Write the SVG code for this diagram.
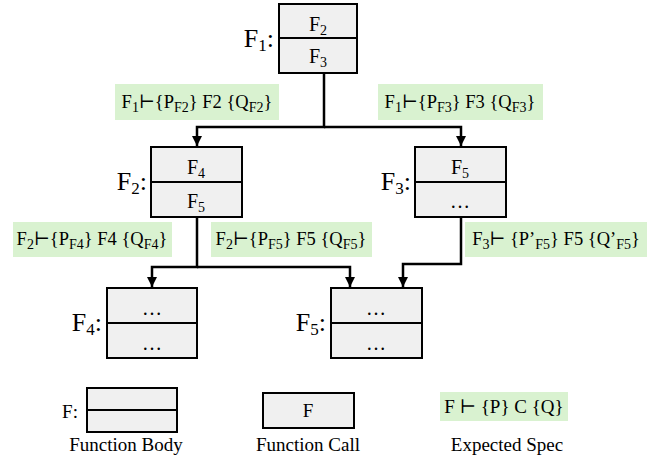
<svg xmlns="http://www.w3.org/2000/svg" width="657" height="462" viewBox="0 0 657 462">
<style>
text{font-family:"Liberation Serif","DejaVu Serif",serif;fill:#000}
.box{fill:#f0f0f0;stroke:#000;stroke-width:2}
.div{stroke:#000;stroke-width:2}
.spec{fill:#d9f2d0}
.lbl{font-size:26px;text-anchor:end}
.in{font-size:20px;text-anchor:middle}
.st{font-size:18.5px;text-anchor:middle}
.leg{font-size:19px;text-anchor:middle}
.sub{font-size:14px}
.ls{font-size:17px}
.con{fill:none;stroke:#000;stroke-width:2.5}
</style>
<defs>
<marker id="ah" viewBox="0 0 10 10" refX="10" refY="5" markerWidth="10" markerHeight="10" markerUnits="userSpaceOnUse" orient="auto">
<path d="M0,0 L10,5 L0,10 Z" fill="#000"/>
</marker>
</defs>

<g id="connectors">
<path class="con" d="M324,74 V127 H197 V146" marker-end="url(#ah)"/>
<path class="con" d="M324,127 H461 V146" marker-end="url(#ah)"/>
<path class="con" d="M197,217 V267 H152 V287" marker-end="url(#ah)"/>
<path class="con" d="M197,267 H350 V287" marker-end="url(#ah)"/>
<path class="con" d="M461,217 V264 H403 V287" marker-end="url(#ah)"/>
</g>

<g id="F1">
<text class="lbl" x="274" y="47">F<tspan class="ls" dy="4">1</tspan><tspan dy="-4">:</tspan></text>
<rect class="box" x="279" y="4" width="78" height="69"/>
<line class="div" x1="279" y1="38" x2="357" y2="38"/>
<text class="in" x="318" y="31">F<tspan class="sub" dy="4">2</tspan></text>
<text class="in" x="318" y="63">F<tspan class="sub" dy="4">3</tspan></text>
</g>

<g id="F2">
<text class="lbl" x="147" y="190">F<tspan class="ls" dy="4">2</tspan><tspan dy="-4">:</tspan></text>
<rect class="box" x="151" y="147" width="91" height="70"/>
<line class="div" x1="151" y1="182" x2="242" y2="182"/>
<text class="in" x="196" y="174">F<tspan class="sub" dy="4">4</tspan></text>
<text class="in" x="196" y="208">F<tspan class="sub" dy="4">5</tspan></text>
</g>

<g id="F3">
<text class="lbl" x="411" y="190">F<tspan class="ls" dy="4">3</tspan><tspan dy="-4">:</tspan></text>
<rect class="box" x="415" y="147" width="91" height="70"/>
<line class="div" x1="415" y1="182" x2="506" y2="182"/>
<text class="in" x="460" y="174">F<tspan class="sub" dy="4">5</tspan></text>
<text class="in" x="460" y="208">…</text>
</g>

<g id="F4">
<text class="lbl" x="102" y="331">F<tspan class="ls" dy="4">4</tspan><tspan dy="-4">:</tspan></text>
<rect class="box" x="107" y="288" width="90" height="70"/>
<line class="div" x1="107" y1="323" x2="197" y2="323"/>
<text class="in" x="152" y="315">…</text>
<text class="in" x="152" y="350">…</text>
</g>

<g id="F5">
<text class="lbl" x="326" y="331">F<tspan class="ls" dy="4">5</tspan><tspan dy="-4">:</tspan></text>
<rect class="box" x="331" y="288" width="91" height="70"/>
<line class="div" x1="331" y1="323" x2="422" y2="323"/>
<text class="in" x="376" y="315">…</text>
<text class="in" x="376" y="350">…</text>
</g>

<g id="spec-F1-F2">
<rect class="spec" x="115" y="84" width="164" height="36"/>
<text class="st" x="197" y="108">F<tspan class="sub" dy="4">1</tspan><tspan dy="-4">⊢{P</tspan><tspan class="sub" dy="4">F2</tspan><tspan dy="-4">} F2 {Q</tspan><tspan class="sub" dy="4">F2</tspan><tspan dy="-4">}</tspan></text>
</g>
<g id="spec-F1-F3">
<rect class="spec" x="378" y="84" width="165" height="36"/>
<text class="st" x="460" y="108">F<tspan class="sub" dy="4">1</tspan><tspan dy="-4">⊢{P</tspan><tspan class="sub" dy="4">F3</tspan><tspan dy="-4">} F3 {Q</tspan><tspan class="sub" dy="4">F3</tspan><tspan dy="-4">}</tspan></text>
</g>
<g id="spec-F2-F4">
<rect class="spec" x="13" y="222" width="159" height="35"/>
<text class="st" x="92" y="245">F<tspan class="sub" dy="4">2</tspan><tspan dy="-4">⊢{P</tspan><tspan class="sub" dy="4">F4</tspan><tspan dy="-4">} F4 {Q</tspan><tspan class="sub" dy="4">F4</tspan><tspan dy="-4">}</tspan></text>
</g>
<g id="spec-F2-F5">
<rect class="spec" x="211" y="222" width="161" height="35"/>
<text class="st" x="291" y="245">F<tspan class="sub" dy="4">2</tspan><tspan dy="-4">⊢{P</tspan><tspan class="sub" dy="4">F5</tspan><tspan dy="-4">} F5 {Q</tspan><tspan class="sub" dy="4">F5</tspan><tspan dy="-4">}</tspan></text>
</g>
<g id="spec-F3-F5">
<rect class="spec" x="465" y="222" width="182" height="35"/>
<text class="st" x="556" y="245">F<tspan class="sub" dy="4">3</tspan><tspan dy="-4">⊢ {P’</tspan><tspan class="sub" dy="4">F5</tspan><tspan dy="-4">} F5 {Q’</tspan><tspan class="sub" dy="4">F5</tspan><tspan dy="-4">}</tspan></text>
</g>

<g id="legend-body">
<text class="leg" x="70" y="418">F:</text>
<rect class="box" x="87" y="388" width="90" height="44"/>
<line class="div" x1="87" y1="410" x2="177" y2="410"/>
<text class="leg" x="126" y="451">Function Body</text>
</g>
<g id="legend-call">
<rect class="box" x="263" y="393" width="91" height="35"/>
<text class="leg" x="308" y="417">F</text>
<text class="leg" x="308" y="451">Function Call</text>
</g>
<g id="legend-spec">
<rect class="spec" x="440" y="392" width="128" height="29"/>
<text class="leg" x="504" y="413">F ⊢ {P} C {Q}</text>
<text class="leg" x="507" y="451">Expected Spec</text>
</g>
</svg>
